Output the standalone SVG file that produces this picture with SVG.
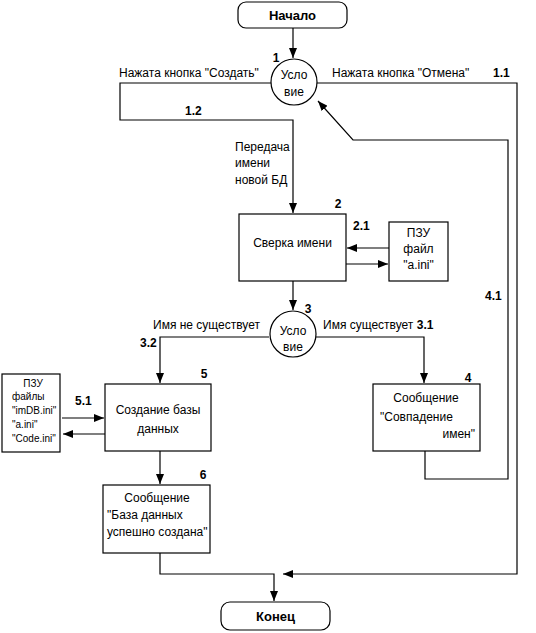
<svg xmlns="http://www.w3.org/2000/svg" width="536" height="633" viewBox="0 0 536 633">
<style>
text{font-family:"Liberation Sans",Arial,sans-serif;font-size:12px;fill:#000}
.b{font-weight:bold}
.t{font-weight:bold;font-size:13px}
.s{font-size:10px}
.n{fill:#fff;stroke:#000;stroke-width:1.2}
.c{fill:none;stroke:#000;stroke-width:1.2}
</style>
<defs>
<marker id="a" viewBox="0 0 10 8" refX="10" refY="4" markerWidth="10" markerHeight="8" markerUnits="userSpaceOnUse" orient="auto">
<path d="M0,0 L10,4 L0,8 z" fill="#000"/>
</marker>
</defs>
<rect width="536" height="633" fill="#fff"/>
<g id="connectors">
<path class="c" d="M293,28 V58" marker-end="url(#a)"/>
<path class="c" d="M271,83 H120 V120 H293 V213" marker-end="url(#a)"/>
<path class="c" d="M317,83 H517 V574 H283" marker-end="url(#a)"/>
<path class="c" d="M425,451 V479 H508 V140 H353 L318,101" marker-end="url(#a)"/>
<path class="c" d="M389,248 H347" marker-end="url(#a)"/>
<path class="c" d="M346,264 H388" marker-end="url(#a)"/>
<path class="c" d="M293,281 V310" marker-end="url(#a)"/>
<path class="c" d="M269,337 H160 V383" marker-end="url(#a)"/>
<path class="c" d="M316,337 H424 V383" marker-end="url(#a)"/>
<path class="c" d="M62,418 H104" marker-end="url(#a)"/>
<path class="c" d="M105,434 H63" marker-end="url(#a)"/>
<path class="c" d="M160,451 V484" marker-end="url(#a)"/>
<path class="c" d="M160,553 V574 H274 V601" marker-end="url(#a)"/>
<text x="119" y="77">Нажата кнопка "Создать"</text>
<text x="332" y="77">Нажата кнопка "Отмена"</text>
<text class="b" x="493" y="77">1.1</text>
<text class="b" x="185" y="115">1.2</text>
<text x="235" y="151">Передача</text>
<text x="235" y="167">имени</text>
<text x="235" y="184">новой БД</text>
<text class="b" x="353" y="230">2.1</text>
<text class="b" x="485" y="300">4.1</text>
<text x="153" y="329">Имя не существует</text>
<text class="b" x="140" y="347">3.2</text>
<text x="323" y="329">Имя существует <tspan class="b">3.1</tspan></text>
<text class="b" x="75" y="405">5.1</text>
</g>
<g id="start">
<rect class="n" x="238" y="2" width="109" height="26" rx="8"/>
<text class="t" x="292.5" y="20" text-anchor="middle">Начало</text>
</g>
<g id="cond1">
<circle class="n" cx="294" cy="82" r="23"/>
<text x="294" y="79" text-anchor="middle">Усло</text>
<text x="294" y="96" text-anchor="middle">вие</text>
<text class="b" x="276" y="62" text-anchor="middle">1</text>
</g>
<g id="box2">
<rect class="n" x="239" y="214" width="107" height="67"/>
<text x="292.5" y="247" text-anchor="middle">Сверка имени</text>
<text class="b" x="338" y="208" text-anchor="middle">2</text>
</g>
<g id="rom1">
<rect class="n" x="389" y="222" width="59" height="59"/>
<text x="418.5" y="237" text-anchor="middle">ПЗУ</text>
<text x="418.5" y="253" text-anchor="middle">файл</text>
<text x="418.5" y="269" text-anchor="middle">"a.ini"</text>
</g>
<g id="cond3">
<circle class="n" cx="293" cy="334" r="23"/>
<text x="293" y="335" text-anchor="middle">Усло</text>
<text x="293" y="351" text-anchor="middle">вие</text>
<text class="b" x="308" y="313" text-anchor="middle">3</text>
</g>
<g id="box5">
<rect class="n" x="105" y="384" width="106" height="67"/>
<text x="158" y="414" text-anchor="middle">Создание базы</text>
<text x="158" y="433" text-anchor="middle">данных</text>
<text class="b" x="204" y="378" text-anchor="middle">5</text>
</g>
<g id="rom2">
<rect class="n" x="2" y="374" width="58" height="78"/>
<text class="s" x="33" y="387" text-anchor="middle">ПЗУ</text>
<text class="s" x="12" y="400">файлы</text>
<text class="s" x="12" y="414">"imDB.ini"</text>
<text class="s" x="12" y="428">"a.ini"</text>
<text class="s" x="12" y="442">"Code.ini"</text>
</g>
<g id="box4">
<rect class="n" x="373" y="384" width="107" height="67"/>
<text x="426" y="402" text-anchor="middle">Сообщение</text>
<text x="380" y="421">"Совпадение</text>
<text x="475" y="438" text-anchor="end">имен"</text>
<text class="b" x="468" y="382" text-anchor="middle">4</text>
</g>
<g id="box6">
<rect class="n" x="103" y="485" width="107" height="68"/>
<text x="157" y="502" text-anchor="middle">Сообщение</text>
<text x="107" y="519">"База данных</text>
<text x="107" y="536">успешно создана"</text>
<text class="b" x="203" y="479" text-anchor="middle">6</text>
</g>
<g id="end">
<rect class="n" x="221" y="602" width="109" height="28" rx="9"/>
<text class="t" x="275.5" y="621" text-anchor="middle">Конец</text>
</g>
</svg>
